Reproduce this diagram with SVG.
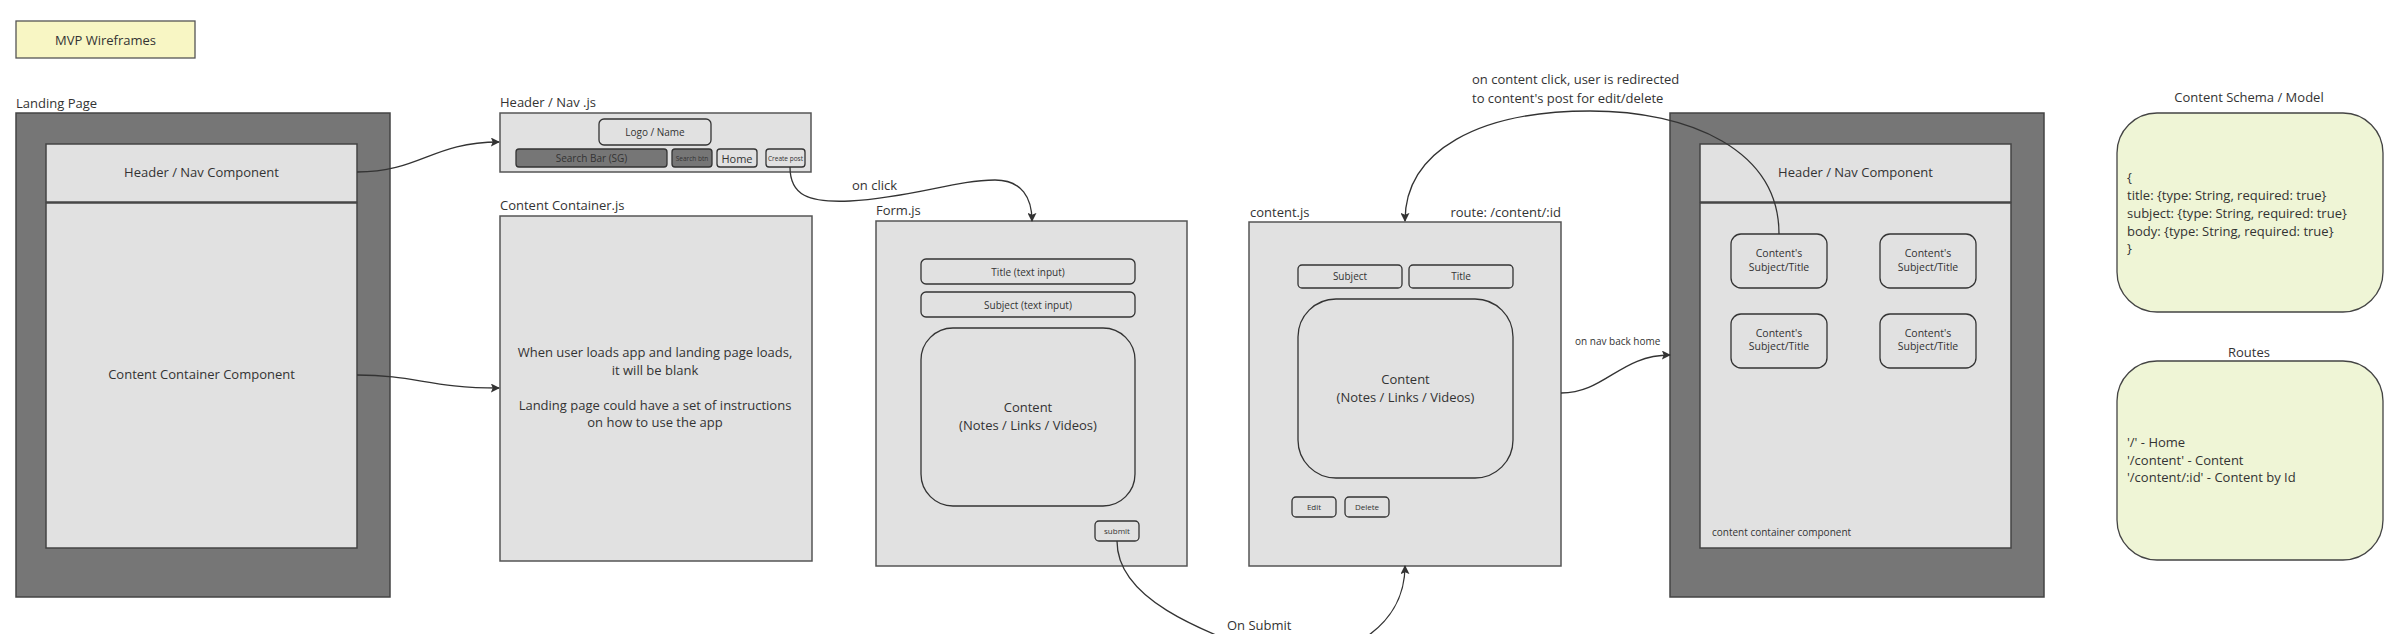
<svg xmlns="http://www.w3.org/2000/svg" width="2407" height="634" viewBox="0 0 2407 634">
<style>
text{font-family:"Open Sans","Noto Sans","Liberation Sans",sans-serif;fill:#333;}
.c{text-anchor:middle;dominant-baseline:central;}
.m{dominant-baseline:central;}
.page{fill:#767676;stroke:#444;stroke-width:1.5;}
.panel{fill:#e1e1e1;stroke:#444;stroke-width:1.5;}
.frame{fill:#e1e1e1;stroke:#555;stroke-width:1.5;}
.btn{fill:#e1e1e1;stroke:#333;stroke-width:1.3;}
.dark{fill:#767676;stroke:#333;stroke-width:1.3;}
.note{fill:#eff5d6;stroke:#444;stroke-width:1.3;}
.title{fill:#f8f6c4;stroke:#555;stroke-width:1.3;}
.edge{fill:none;stroke:#333;stroke-width:1.3;}
.f13{font-size:13px;}
.f14{font-size:13px;}
.f10{font-size:10px;}
.f8{font-size:8px;}
.f6{font-size:6.5px;}
</style>
<defs>
<marker id="arr" viewBox="0 0 10 10" refX="9" refY="5" markerWidth="9" markerHeight="9" markerUnits="userSpaceOnUse" orient="auto">
<path d="M0,0 L10,5 L0,10 L2,5 z" fill="#333"/>
</marker>
</defs>

<g id="mvp-title">
<rect class="title" x="16" y="21" width="179" height="37"/>
<text class="c f13" x="105.5" y="39.5">MVP Wireframes</text>
</g>

<g id="landing-page">
<text class="f13" x="16" y="108">Landing Page</text>
<rect class="page" x="16" y="113" width="374" height="484"/>
<rect class="panel" x="46" y="144" width="311" height="58"/>
<text class="c f14" x="201.5" y="172">Header / Nav Component</text>
<rect class="panel" x="46" y="203" width="311" height="345"/>
<text class="c f14" x="201.5" y="374">Content Container Component</text>
</g>

<g id="header-nav-js">
<text class="f13" x="500" y="107">Header / Nav .js</text>
<rect class="frame" x="500" y="113" width="311" height="59"/>
<rect class="btn" x="599" y="119" width="112" height="26" rx="5"/>
<text class="c f10" x="655" y="132">Logo / Name</text>
<rect class="dark" x="516" y="149" width="151" height="18" rx="3"/>
<text class="c f10" x="591.5" y="158">Search Bar (SG)</text>
<rect class="dark" x="672" y="149" width="40" height="18" rx="3"/>
<text class="c f6" x="692" y="158">Search btn</text>
<rect class="btn" x="717" y="149" width="40" height="18" rx="3"/>
<text class="c" x="737" y="158" font-size="11">Home</text>
<rect class="btn" x="766" y="149" width="39" height="18" rx="3"/>
<text class="c f6" x="785.5" y="158.5">Create post</text>
</g>

<g id="content-container-js">
<text class="f13" x="500" y="210">Content Container.js</text>
<rect class="frame" x="500" y="216" width="312" height="345"/>
<text class="c f13" x="655" y="352">When user loads app and landing page loads,</text>
<text class="c f13" x="655" y="369.5">it will be blank</text>
<text class="c f13" x="655" y="404.5">Landing page could have a set of instructions</text>
<text class="c f13" x="655" y="422">on how to use the app</text>
</g>

<g id="form-js">
<text class="f13" x="876" y="215">Form.js</text>
<rect class="frame" x="876" y="221" width="311" height="345"/>
<rect class="btn" x="921" y="259" width="214" height="25" rx="5"/>
<text class="c f10" x="1028" y="271.5">Title (text input)</text>
<rect class="btn" x="921" y="292" width="214" height="25" rx="5"/>
<text class="c f10" x="1028" y="304.5">Subject (text input)</text>
<rect class="btn" x="921" y="328" width="214" height="178" rx="32"/>
<text class="c f14" x="1028" y="407">Content</text>
<text class="c f14" x="1028" y="425">(Notes / Links / Videos)</text>
<rect class="btn" x="1095" y="521" width="44" height="20" rx="4"/>
<text class="c f8" x="1117" y="530.5">submit</text>
</g>

<g id="content-js">
<text class="f13" x="1250" y="217">content.js</text>
<text class="f13" x="1561" y="217" text-anchor="end">route: /content/:id</text>
<rect class="frame" x="1249" y="222" width="312" height="344"/>
<rect class="btn" x="1298" y="265" width="104" height="23" rx="4"/>
<text class="c f10" x="1350" y="276">Subject</text>
<rect class="btn" x="1409" y="265" width="104" height="23" rx="4"/>
<text class="c f10" x="1461" y="276">Title</text>
<rect class="btn" x="1298" y="299" width="215" height="179" rx="38"/>
<text class="c f14" x="1405.5" y="379">Content</text>
<text class="c f14" x="1405.5" y="397">(Notes / Links / Videos)</text>
<rect class="btn" x="1292" y="497" width="44" height="20" rx="4"/>
<text class="c f8" x="1314" y="506.5">Edit</text>
<rect class="btn" x="1345" y="497" width="44" height="20" rx="4"/>
<text class="c f8" x="1367" y="506.5">Delete</text>
</g>

<g id="home-page">
<rect class="page" x="1670" y="113" width="374" height="484"/>
<rect class="panel" x="1700" y="144" width="311" height="58"/>
<text class="c f14" x="1855.5" y="172">Header / Nav Component</text>
<rect class="panel" x="1700" y="203" width="311" height="345"/>
<rect class="btn" x="1731" y="234" width="96" height="54" rx="10"/>
<text class="c" x="1779" y="253" font-size="10.5">Content's</text>
<text class="c" x="1779" y="267" font-size="10.5">Subject/Title</text>
<rect class="btn" x="1880" y="234" width="96" height="54" rx="10"/>
<text class="c" x="1928" y="253" font-size="10.5">Content's</text>
<text class="c" x="1928" y="267" font-size="10.5">Subject/Title</text>
<rect class="btn" x="1731" y="314" width="96" height="54" rx="10"/>
<text class="c" x="1779" y="333" font-size="10.5">Content's</text>
<text class="c" x="1779" y="346" font-size="10.5">Subject/Title</text>
<rect class="btn" x="1880" y="314" width="96" height="54" rx="10"/>
<text class="c" x="1928" y="333" font-size="10.5">Content's</text>
<text class="c" x="1928" y="346" font-size="10.5">Subject/Title</text>
<text class="m f10" x="1712" y="532">content container component</text>
</g>

<g id="content-schema">
<text class="c f13" x="2249" y="97">Content Schema / Model</text>
<rect class="note" x="2117" y="113" width="266" height="199" rx="40"/>
<text class="m f13" x="2127" y="177">{</text>
<text class="m f13" x="2127" y="194.5">title: {type: String, required: true}</text>
<text class="m f13" x="2127" y="212.5">subject: {type: String, required: true}</text>
<text class="m f13" x="2127" y="230.5">body: {type: String, required: true}</text>
<text class="m f13" x="2127" y="248">}</text>
</g>

<g id="routes">
<text class="c f13" x="2249" y="352">Routes</text>
<rect class="note" x="2117" y="361" width="266" height="199" rx="40"/>
<text class="m f13" x="2127" y="442">'/' - Home</text>
<text class="m f13" x="2127" y="459.5">'/content' - Content</text>
<text class="m f13" x="2127" y="477">'/content/:id' - Content by Id</text>
</g>

<g id="connectors">
<path class="edge" d="M357 172 C420 172 432 142 499 142" marker-end="url(#arr)"/>
<path class="edge" d="M357 375 C415 375 430 388 499 388" marker-end="url(#arr)"/>
<path class="edge" d="M790 167 C790 195 808 203 850 201 C915 197 955 180 995 180 C1022 180 1032 198 1032 221" marker-end="url(#arr)"/>
<text class="f13" x="852" y="190">on click</text>
<path class="edge" d="M1117 541 C1117 600 1200 630 1280 660 C1340 662 1405 630 1405 566" marker-end="url(#arr)"/>
<text class="f13" x="1227" y="630">On Submit</text>
<path class="edge" d="M1561 393 C1605 393 1620 355 1670 355" marker-end="url(#arr)"/>
<text class="m f10" x="1575" y="341">on nav back home</text>
<path class="edge" d="M1779 234 C1779 150 1690 111 1590 111 C1480 111 1405 150 1405 221" marker-end="url(#arr)"/>
<text class="m f13" x="1472" y="79">on content click, user is redirected</text>
<text class="m f13" x="1472" y="98">to content's post for edit/delete</text>
</g>
</svg>
